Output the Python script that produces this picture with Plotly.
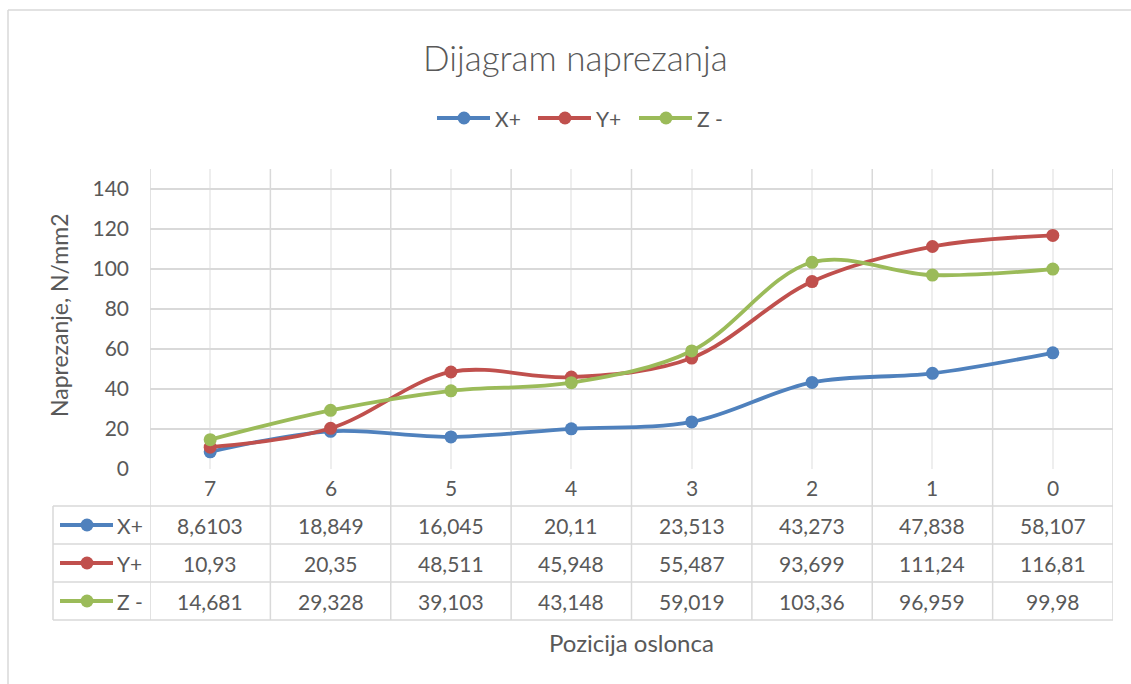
import plotly.graph_objects as go

# Support positions (category axis) and stress values per direction
categories = ["7", "6", "5", "4", "3", "2", "1", "0"]
x_plus = [8.6103, 18.849, 16.045, 20.11, 23.513, 43.273, 47.838, 58.107]
y_plus = [10.93, 20.35, 48.511, 45.948, 55.487, 93.699, 111.24, 116.81]
z_minus = [14.681, 29.328, 39.103, 43.148, 59.019, 103.36, 96.959, 99.98]
series_names = ["X+", "Y+", "Z -"]
y_ticks = [0, 20, 40, 60, 80, 100, 120, 140]

series = [x_plus, y_plus, z_minus]
colors = ["#4F81BD", "#C0504D", "#9BBB59"]

W, H = 1131, 684
# plot area in pixels
PL, PR, PT, PB = 150, 1113, 169, 469
FONT = "Lato, Carlito, Calibri, sans-serif"
TXT = "#595959"
GRID = "#d9d9d9"
LW = 3.8      # series line width
MR = 6.5      # marker radius


def px(xp):
    return (xp - PL) / (PR - PL)


def py(yp):
    return (PB - yp) / (PB - PT)


def label(x, y, text, size=21, xref="paper", xanchor="center", **kw):
    return dict(x=x, y=y, xref=xref, yref="paper", text=text, showarrow=False,
                xanchor=xanchor, yanchor="middle",
                font=dict(family=FONT, size=size, color=TXT, **kw.pop("font", {})),
                **kw)


def legend_key(x_left, y_center, col):
    """Line segment with a dot in the middle, in pixel positions."""
    yc = py(y_center)
    return [
        dict(type="line", xref="paper", yref="paper",
             x0=px(x_left), x1=px(x_left + 53), y0=yc, y1=yc,
             line=dict(color=col, width=LW)),
        dict(type="circle", xref="paper", yref="paper",
             xsizemode="pixel", ysizemode="pixel",
             xanchor=px(x_left + 27), yanchor=yc,
             x0=-MR, x1=MR, y0=-MR, y1=MR,
             fillcolor=col, line=dict(color=col, width=0)),
    ]


fig = go.Figure()
for name, vals, col in zip(series_names, series, colors):
    fig.add_trace(go.Scatter(
        x=categories, y=vals, name=name, mode="lines+markers",
        line=dict(color=col, width=LW, shape="spline", smoothing=1.0),
        marker=dict(color=col, size=2 * MR),
    ))

shapes = []
annotations = []

# data-table row boundaries (pixel y)
row_edges = [469, 506, 544, 582, 620]
row_centers = [(row_edges[i] + row_edges[i + 1]) / 2 for i in range(4)]
TL = 53  # table left edge

# vertical category boundaries through plot and table
for k in range(len(categories) + 1):
    shapes.append(dict(type="line", xref="x", yref="paper",
                       x0=k - 0.5, x1=k - 0.5, y0=py(PT), y1=py(620),
                       line=dict(color=GRID, width=1.5), layer="below"))
# horizontal table lines
for ye in row_edges[1:]:
    shapes.append(dict(type="line", xref="paper", yref="paper",
                       x0=px(TL), x1=1, y0=py(ye), y1=py(ye),
                       line=dict(color=GRID, width=1.5), layer="below"))
shapes.append(dict(type="line", xref="paper", yref="paper",
                   x0=px(TL), x1=px(TL), y0=py(506), y1=py(620),
                   line=dict(color=GRID, width=1.5), layer="below"))

# outer chart border (left and top)
shapes.append(dict(type="line", xref="paper", yref="paper",
                   x0=px(8), x1=px(8), y0=py(10), y1=py(H + 5),
                   line=dict(color=GRID, width=1.5)))
shapes.append(dict(type="line", xref="paper", yref="paper",
                   x0=px(8), x1=px(W + 5), y0=py(10), y1=py(10),
                   line=dict(color=GRID, width=1.5)))

# legend above the plot
for i, (name, col) in enumerate(zip(series_names, colors)):
    x_left = 437 + 101 * i
    shapes.extend(legend_key(x_left, 118, col))
    annotations.append(label(px(x_left + 56), py(118), name, xanchor="left"))

# table header: category labels (placed by category index)
for i, c in enumerate(categories):
    annotations.append(label(i, py(row_centers[0]), c, xref="x"))

# table rows: legend key + values
for r, (name, vals, col) in enumerate(zip(series_names, series, colors)):
    yc_pix = row_centers[r + 1]
    shapes.extend(legend_key(60, yc_pix, col))
    annotations.append(label(px(115), py(yc_pix), name, xanchor="left"))
    for i, v in enumerate(vals):
        annotations.append(label(i, py(yc_pix), str(v).replace(".", ","), xref="x"))

# chart title and axis titles
annotations.append(label(px(575), py(57), "Dijagram naprezanja", size=35,
                         font=dict(weight=300)))
annotations.append(label(px(631), py(642), "Pozicija oslonca", size=24))
annotations.append(label(px(59), py(315), "Naprezanje, N/mm2", size=23, textangle=-90))

fig.update_layout(
    width=W, height=H,
    margin=dict(l=PL, r=W - PR, t=PT, b=H - PB, pad=0),
    paper_bgcolor="white", plot_bgcolor="white",
    showlegend=False,
    shapes=shapes, annotations=annotations,
    xaxis=dict(type="category", range=[-0.5, len(categories) - 0.5],
               showticklabels=False, ticks="", showgrid=True, gridcolor="#eeeeee",
               gridwidth=1.5, zeroline=False, showline=False, fixedrange=True),
    yaxis=dict(range=[0, 150], tickvals=y_ticks, showgrid=True, gridcolor=GRID,
               gridwidth=1.5, zeroline=False, showline=False, ticks="",
               ticklabelstandoff=20,
               tickfont=dict(family=FONT, size=21, color=TXT)),
)

fig.write_html("out.html")
